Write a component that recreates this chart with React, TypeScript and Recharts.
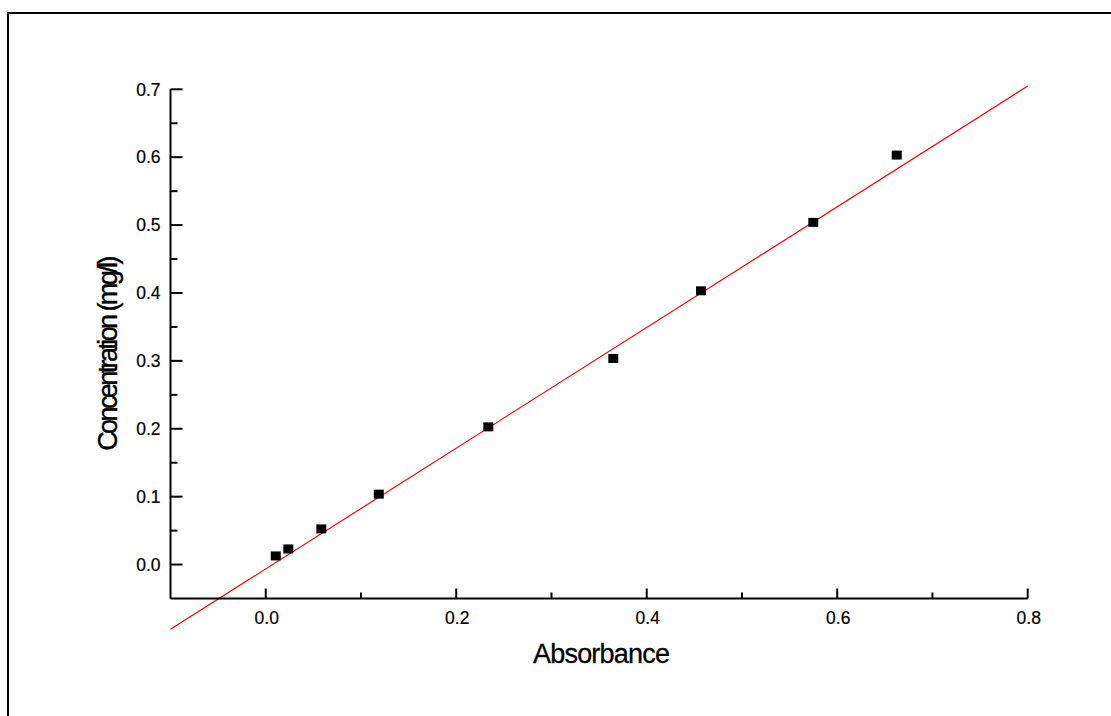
import React from 'react';
import { ScatterChart, Scatter, XAxis, YAxis, ReferenceLine } from 'recharts';

// Calibration points (Absorbance vs Concentration mg/l)
const absorbance = [0.0105, 0.0237, 0.0584, 0.1187, 0.2337, 0.3649, 0.457, 0.5749, 0.6625];
const concentration = [0.0127, 0.023, 0.0525, 0.1037, 0.2028, 0.3036, 0.4032, 0.504, 0.6031];

// Linear fit line end points
const fitX = [-0.1, 0.8];
const fitY = [-0.0953, 0.7048];

// Ticks
const xMajorTicks = [0, 0.2, 0.4, 0.6, 0.8];
const xMajorLabels = ['0.0', '0.2', '0.4', '0.6', '0.8'];
const xMinorTicks = [0.1, 0.3, 0.5, 0.7];
const yMajorTicks = [0, 0.1, 0.2, 0.3, 0.4, 0.5, 0.6, 0.7];
const yMajorLabels = ['0.0', '0.1', '0.2', '0.3', '0.4', '0.5', '0.6', '0.7'];
const yMinorTicks = [0.05, 0.15, 0.25, 0.35, 0.45, 0.55, 0.65];

const xTitle = 'Absorbance';
const yTitle = 'Concentration (mg/l)';

const points = absorbance.map((x, i) => ({ x, y: concentration[i] }));

const FONT = '"Liberation Sans", Arial, Helvetica, sans-serif';

const findIndex = (arr: number[], v: number) => arr.findIndex((t) => Math.abs(t - v) < 1e-9);

const XTick = (props: any) => {
  const { x, y, payload } = props;
  const idx = findIndex(xMajorTicks, payload.value);
  const major = idx >= 0;
  return (
    <g>
      <line x1={x} y1={y} x2={x} y2={y - (major ? 10 : 6)} stroke="#000" strokeWidth={2} />
      {major && (
        <text x={x + 1} y={y + 25} textAnchor="middle" fontSize={17.5} fontFamily={FONT} fill="#000" stroke="#000" strokeWidth={0.2}>
          {xMajorLabels[idx]}
        </text>
      )}
    </g>
  );
};

const YTick = (props: any) => {
  const { x, y, payload } = props;
  const idx = findIndex(yMajorTicks, payload.value);
  const major = idx >= 0;
  return (
    <g>
      <line x1={x} y1={y} x2={x + (major ? 12 : 7)} y2={y} stroke="#000" strokeWidth={2} />
      {major && (
        <text x={x - 10} y={y + 6.2} textAnchor="end" fontSize={17.5} fontFamily={FONT} fill="#000" stroke="#000" strokeWidth={0.2}>
          {yMajorLabels[idx]}
        </text>
      )}
    </g>
  );
};

const XLabel = (props: any) => {
  const vb = props.viewBox || { x: 170.5, y: 598.5, width: 857.2, height: 30 };
  return (
    <text x={vb.x + vb.width / 2 + 2} y={vb.y + 64.5} textAnchor="middle" fontSize={27} fontFamily={FONT} fill="#000" stroke="#000" strokeWidth={0.3} letterSpacing={-0.8}>
      {xTitle}
    </text>
  );
};

const YLabel = (props: any) => {
  const vb = props.viewBox || { x: 110, y: 89.3, width: 60.5, height: 509.2 };
  const cx = vb.x + 6.7;
  const cy = vb.y + vb.height / 2 + 10.6;
  return (
    <text x={cx} y={cy} transform={`rotate(-90, ${cx}, ${cy})`} textAnchor="middle" fontSize={27} fontFamily={FONT} fill="#000" stroke="#000" strokeWidth={0.4} letterSpacing={-2.6}>
      {yTitle}
    </text>
  );
};

const SquareMarker = (props: any) => {
  const { cx, cy } = props;
  return <rect x={cx - 5} y={cy - 4.5} width={10} height={9} fill="#000" />;
};

export default function App() {
  return (
    <div style={{ position: 'absolute', left: 0, top: 0, width: 1111, height: 716, overflow: 'hidden', background: '#fff' }}>
      <div
        style={{
          position: 'absolute',
          left: 7,
          top: 12,
          width: 1200,
          height: 800,
          border: '2px solid #000',
          boxSizing: 'border-box',
        }}
      />
      <div style={{ position: 'absolute', left: 0, top: 0 }}>
        <ScatterChart width={1111} height={716} margin={{ top: 89.3, right: 83.3, bottom: 87.5, left: 110 }}>
          <XAxis
            type="number"
            dataKey="x"
            domain={[-0.1, 0.8]}
            ticks={[...xMajorTicks, ...xMinorTicks].sort((a, b) => a - b)}
            interval={0}
            tick={<XTick />}
            tickLine={false}
            tickSize={0}
            tickMargin={0}
            height={30}
            axisLine={{ stroke: '#000', strokeWidth: 2 }}
            label={<XLabel />}
          />
          <YAxis
            type="number"
            dataKey="y"
            domain={[-0.05, 0.7]}
            ticks={[...yMajorTicks, ...yMinorTicks].sort((a, b) => a - b)}
            interval={0}
            tick={<YTick />}
            tickLine={false}
            tickSize={0}
            tickMargin={0}
            width={60.5}
            axisLine={{ stroke: '#000', strokeWidth: 2 }}
            label={<YLabel />}
          />
          <ReferenceLine
            segment={[
              { x: fitX[0], y: fitY[0] },
              { x: fitX[1], y: fitY[1] },
            ]}
            ifOverflow="visible"
            stroke="#ff0000"
            strokeWidth={1.2}
          />
          <Scatter data={points} shape={<SquareMarker />} isAnimationActive={false} />
        </ScatterChart>
      </div>
    </div>
  );
}
